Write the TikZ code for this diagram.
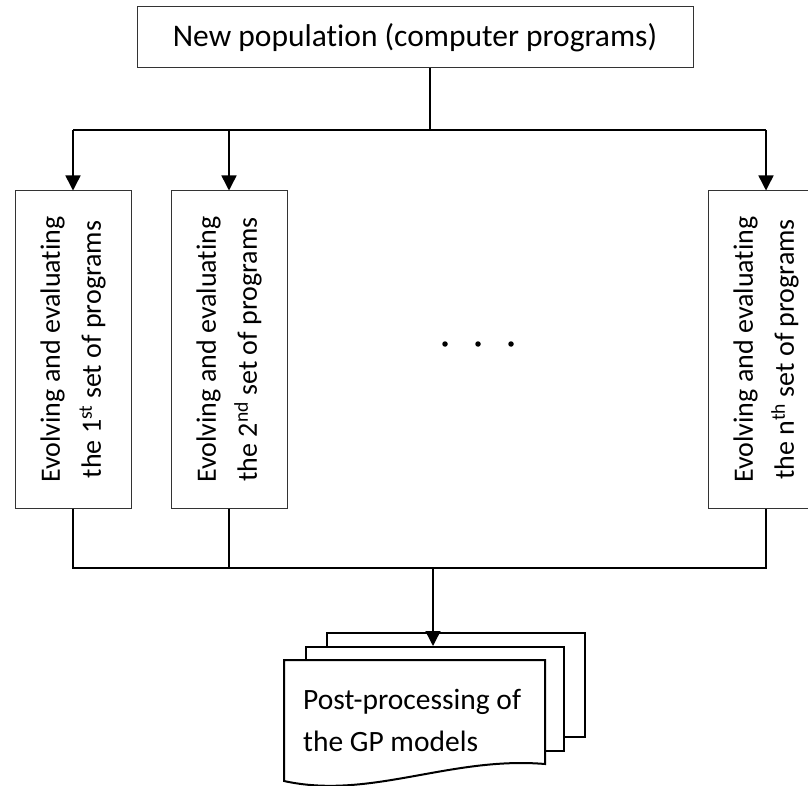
\documentclass[tikz,border=0pt]{standalone}
\usepackage{fontspec}
\setmainfont{Carlito}[Ligatures=NoCommon]
\usetikzlibrary{arrows.meta}

\begin{document}
\begin{tikzpicture}[
                x=1pt, y=-1pt,
                every node/.style={font=\fontsize{28}{41}\selectfont, inner sep=0pt},
                popbox/.style={draw=black!80, line width=1pt, minimum width=556pt, minimum height=61pt,
                        font=\fontsize{31.5}{38}\selectfont},
                setbox/.style={draw=black!80, line width=1pt, rotate=90, align=center,
                        minimum width=317pt, minimum height=116pt},
                link/.style={line width=1.5pt},
                arrow/.style={link, -{Triangle[width=15pt,length=15pt]}},
                page/.style={draw, line width=2pt, fill=white, minimum width=258pt, minimum height=104pt},
                dot/.style={circle, fill, minimum size=5.5pt}
            ]

            \clip (0,0) rectangle (808,786);

            \node[popbox] (pop) at (415,37.5) {New population (computer programs)};

            \node[setbox] (set1) at (73,349.5) {Evolving and evaluating\\the 1\textsuperscript{st} set of programs};
            \node[setbox] (set2) at (229,349.5) {Evolving and evaluating\\the 2\textsuperscript{nd} set of programs};
            \node[setbox] (set3) at (766,349.5) {Evolving and evaluating\\the n\textsuperscript{th} set of programs};

            \foreach \i in {0,1,2}
                \node[dot] (dot\i) at (445+33*\i,344) {};

            \coordinate (split) at (430,130);
            \coordinate (merge) at (433,568);

            \draw[link] (pop.south -| split) -- (split);
            \draw[link] (set1 |- split) -- (set3 |- split);
            \draw[arrow] (set1 |- split) -- (set1.east);
            \draw[arrow] (set2 |- split) -- (set2.east);
            \draw[arrow] (set3 |- split) -- (set3.east);

            \draw[link] (set1.west) -- (set1.west |- merge) -- (set3.west |- merge) -- (set3.west);
            \draw[link] (set2.west) -- (set2.west |- merge);

            \node[page] (pageA) at (456,685) {};
            \node[page] (pageB) at (434.5,699) {};
            \draw[page] (284,660) -- (545,660) -- (545,764)
                .. controls (450,756) and (370,800) .. (284,781) -- cycle;
            \node[anchor=west, align=left, font=\fontsize{29.5}{42}\selectfont] (post) at (303,720)
                {Post-processing of\\the GP models};

            \draw[arrow] (merge) -- (merge |- pageB.north);

        \end{tikzpicture}
\end{document}
